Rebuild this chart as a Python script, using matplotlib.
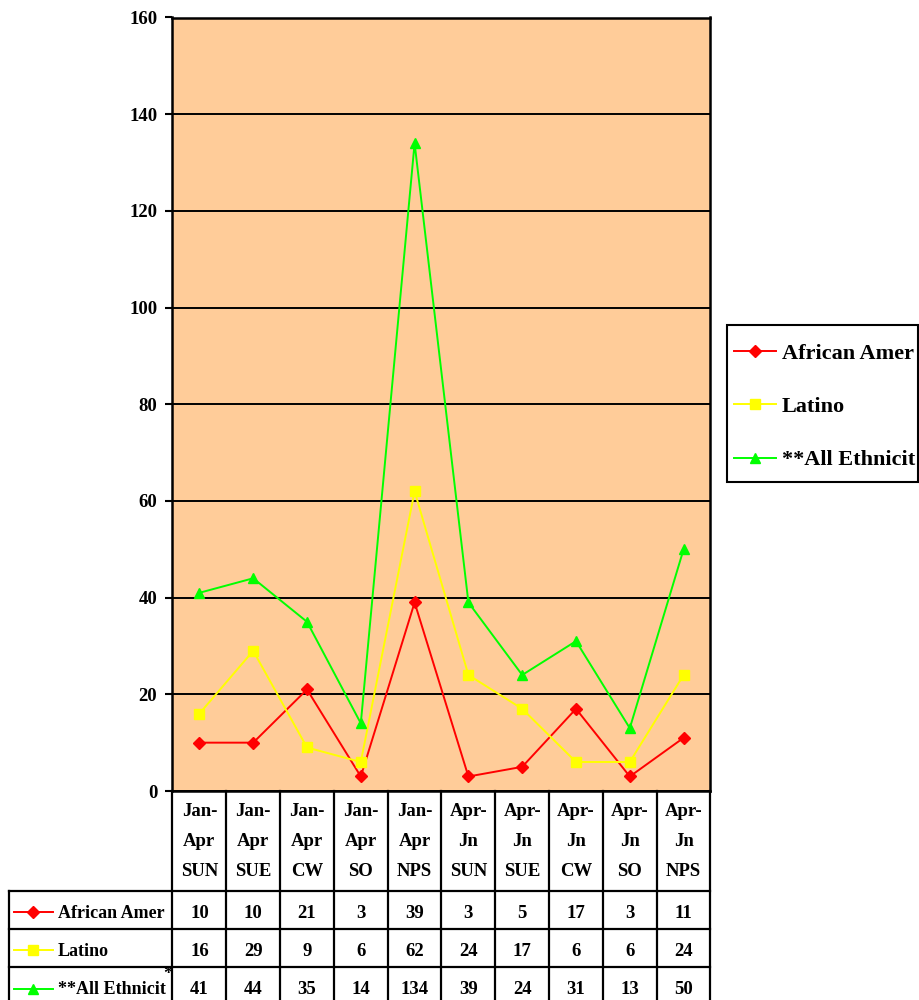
import matplotlib
matplotlib.use('Agg')
import matplotlib.pyplot as plt
from matplotlib.lines import Line2D
from matplotlib.patches import Rectangle

# ---------------- data ----------------
categories = ["Jan-\nApr\nSUN", "Jan-\nApr\nSUE", "Jan-\nApr\nCW", "Jan-\nApr\nSO", "Jan-\nApr\nNPS",
              "Apr-\nJn\nSUN", "Apr-\nJn\nSUE", "Apr-\nJn\nCW", "Apr-\nJn\nSO", "Apr-\nJn\nNPS"]
african_amer = [10, 10, 21, 3, 39, 3, 5, 17, 3, 11]
latino = [16, 29, 9, 6, 62, 24, 17, 6, 6, 24]
all_ethnicit = [41, 44, 35, 14, 134, 39, 24, 31, 13, 50]
series_names = ["African Amer", "Latino", "**All Ethnicit"]
y_ticks = [0, 20, 40, 60, 80, 100, 120, 140, 160]

# ---------------- styles ----------------
series_values = [african_amer, latino, all_ethnicit]
colors = ["#FF0000", "#FFFF00", "#00FF00"]
markers = ["D", "s", "^"]
msizes = [6, 6.5, 7.5]
FONT = "Liberation Serif"
W, H = 920, 1000

fig = plt.figure(figsize=(W / 100, H / 100), dpi=100)


def fx(px):
    return px / W


def fy(py):
    return 1 - py / H


left_px, right_px, top_px, bot_px = 172.5, 710.5, 17.5, 791
ax = fig.add_axes([fx(left_px), fy(bot_px), fx(right_px) - fx(left_px), fy(top_px) - fy(bot_px)])
ax.set_facecolor("#FFCC99")
n = len(categories)
xs = list(range(n))
for vals, c, m, ms in zip(series_values, colors, markers, msizes):
    ax.plot(xs, vals, color=c, lw=1.4, marker=m, markersize=ms, markerfacecolor=c,
            markeredgecolor=c, zorder=3)
ax.set_xlim(-0.5, n - 0.5)
ax.set_ylim(y_ticks[0], y_ticks[-1])
ax.set_yticks(y_ticks)
ax.set_yticklabels([str(t) for t in y_ticks], fontfamily=FONT, fontweight="bold", fontsize=13.5)
ax.set_xticks([])
ax.tick_params(axis="y", direction="out", length=5, width=1.5, pad=6)
ax.yaxis.grid(True, color="black", lw=1.4)
ax.set_axisbelow(True)
for s in ax.spines.values():
    s.set_linewidth(1.8)
    s.set_color("black")

# ---------------- data table ----------------
label_px = 9.5
colw = (right_px - left_px) / n
ncols_label = (left_px - label_px) / colw
tax = fig.add_axes([fx(label_px), 0, fx(right_px) - fx(label_px), fy(bot_px)])
tax.set_xlim(-0.5 - ncols_label, n - 0.5)
tax.set_ylim(H, bot_px)
tax.axis("off")


def px2x(px):
    return (px - label_px) / colw - 0.5 - ncols_label


row_edges = [891, 929.5, 967.5, 1006]
lk = dict(color="black", lw=1.6, clip_on=False, solid_capstyle="projecting")
for i in range(n + 1):
    tax.plot([i - 0.5, i - 0.5], [bot_px, H + 5], **lk)
tax.plot([px2x(label_px), px2x(label_px)], [row_edges[0], H + 5], **lk)
for ye in row_edges:
    tax.plot([px2x(label_px), n - 0.5], [ye, ye], **lk)

tfont = dict(fontfamily=FONT, fontweight="bold", fontsize=13.5)
lfont = dict(fontfamily=FONT, fontweight="bold", fontsize=13)
for i, cat in enumerate(categories):
    tax.text(i, 842, cat, ha="center", va="center", linespacing=2.0, **tfont)

for r, (name, vals, c, m, ms) in enumerate(zip(series_names, series_values, colors, markers, msizes)):
    yc = (row_edges[r] + row_edges[r + 1]) / 2 - 1
    ytxt = yc + 4
    tax.plot([px2x(14), px2x(53)], [yc + 3, yc + 3], color=c, lw=1.4, clip_on=False)
    tax.plot([px2x(33.5)], [yc + 3], marker=m, color=c, markersize=ms, clip_on=False)
    tax.text(px2x(58), ytxt, name, ha="left", va="center", **lfont)
    for i, v in enumerate(vals):
        tax.text(i, ytxt, str(v), ha="center", va="center", **tfont)
tax.text(px2x(167.5), 975, "*", ha="center", va="center", **tfont)

# ---------------- legend ----------------
fig.patches.append(Rectangle((fx(727), fy(482)), fx(918) - fx(727), fy(325) - fy(482),
                             transform=fig.transFigure, facecolor="white", edgecolor="black",
                             lw=1.5, zorder=1))
handles = [Line2D([0], [0], color=c, lw=1.4, marker=m, markersize=ms, markerfacecolor=c, markeredgecolor=c)
           for c, m, ms in zip(colors, markers, msizes)]
leg = fig.legend(handles, series_names, loc="upper left", bbox_to_anchor=(fx(734), fy(343)),
                 frameon=False, borderaxespad=0, borderpad=0,
                 prop=dict(family=FONT, weight="bold", size=16), handlelength=1.9,
                 handletextpad=0.25, labelspacing=1.48)
leg.set_zorder(2)

fig.savefig("out.png", dpi=100)
